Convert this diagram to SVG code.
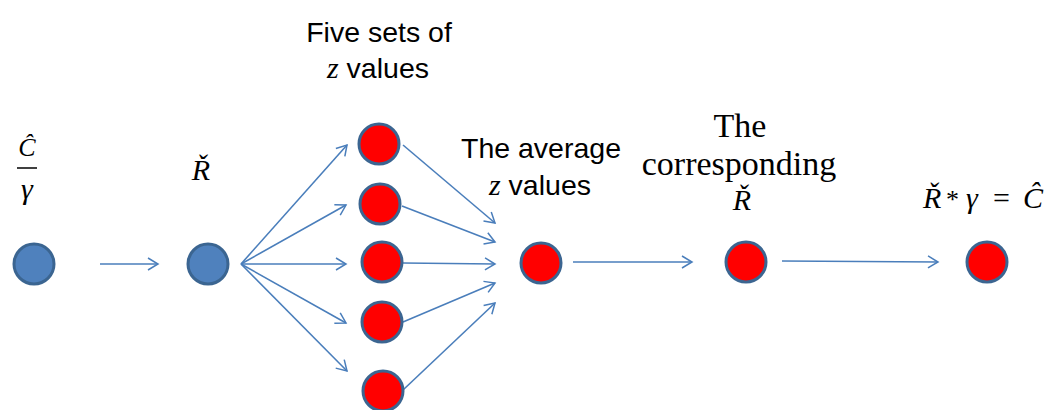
<svg xmlns="http://www.w3.org/2000/svg" width="1051" height="410" viewBox="0 0 1051 410">
<defs>
<marker id="ah" markerUnits="userSpaceOnUse" markerWidth="14" markerHeight="14" refX="11" refY="7" orient="auto">
<path d="M1,1 L11,7 L1,13" fill="none" stroke="#4A7EBB" stroke-width="1.5"/>
</marker>
<style>
.blue{fill:#4F81BD;stroke:#3B6591;stroke-width:3}
.red{fill:#FF0000;stroke:#3B6591;stroke-width:3}
.c{stroke:#4A7EBB;stroke-width:1.6;fill:none;marker-end:url(#ah)}
.s{font-family:"Liberation Sans",Arial,sans-serif;font-size:28.5px;fill:#000}
.m{font-family:"Liberation Serif","Times New Roman",serif;font-style:italic;fill:#000}
.r{font-family:"Liberation Serif","Times New Roman",serif;font-size:34px;fill:#000}
</style>
</defs>
<rect width="1051" height="410" fill="#fff"/>
<g id="connectors">
<line class="c" x1="100" y1="264" x2="158" y2="264"/>
<line class="c" x1="241" y1="264" x2="347" y2="145"/>
<line class="c" x1="241" y1="264" x2="346" y2="205"/>
<line class="c" x1="241" y1="264" x2="346" y2="264"/>
<line class="c" x1="241" y1="264" x2="346" y2="323"/>
<line class="c" x1="241" y1="264" x2="347" y2="371"/>
<line class="c" x1="403" y1="145" x2="495" y2="223"/>
<line class="c" x1="402" y1="206" x2="495" y2="242"/>
<line class="c" x1="403" y1="263" x2="495" y2="264"/>
<line class="c" x1="403" y1="322" x2="495" y2="283"/>
<line class="c" x1="403" y1="390" x2="495" y2="303"/>
<line class="c" x1="573" y1="262" x2="692" y2="262"/>
<line class="c" x1="782" y1="261" x2="938" y2="262"/>
</g>
<g id="n1">
<circle class="blue" cx="34" cy="264" r="20"/>
<text class="m" x="27" y="156" font-size="26" text-anchor="middle">Ĉ</text>
<line x1="17" y1="168" x2="37" y2="168" stroke="#000" stroke-width="1.5"/>
<text class="m" x="27" y="199" font-size="30" text-anchor="middle">γ</text>
</g>
<g id="n2">
<circle class="blue" cx="208" cy="264" r="20"/>
<text class="m" x="201" y="180" font-size="30" text-anchor="middle">Ř</text>
</g>
<g id="z1"><circle class="red" cx="379" cy="144" r="20"/></g>
<g id="z2"><circle class="red" cx="380" cy="204" r="20"/></g>
<g id="z3"><circle class="red" cx="382" cy="262" r="20"/></g>
<g id="z4"><circle class="red" cx="382" cy="322" r="20"/></g>
<g id="z5"><circle class="red" cx="383" cy="391" r="20"/></g>
<g id="five-label">
<text class="s" x="379" y="42" text-anchor="middle">Five sets of</text>
<text x="378" y="78" text-anchor="middle" class="s"><tspan class="m" font-size="30">z</tspan> values</text>
</g>
<g id="avg">
<circle class="red" cx="541" cy="263" r="20"/>
<text class="s" x="541" y="158" text-anchor="middle">The average</text>
<text x="540" y="195" text-anchor="middle" class="s"><tspan class="m" font-size="30">z</tspan> values</text>
</g>
<g id="corr">
<circle class="red" cx="746" cy="262" r="20"/>
<text class="r" x="740" y="137" text-anchor="middle">The</text>
<text class="r" x="739" y="175" text-anchor="middle">corresponding</text>
<text class="m" x="742" y="210" font-size="30" text-anchor="middle">Ř</text>
</g>
<g id="final">
<circle class="red" cx="987" cy="262" r="20"/>
<text class="m" x="923" y="208" font-size="30">Ř</text>
<text x="946" y="208" font-size="26" font-family="Liberation Serif, serif">*</text>
<text class="m" x="966" y="208" font-size="30">γ</text>
<text x="993" y="208" font-size="30" font-family="Liberation Serif, serif">=</text>
<text class="m" x="1023" y="208" font-size="30">Ĉ</text>
</g>
</svg>
